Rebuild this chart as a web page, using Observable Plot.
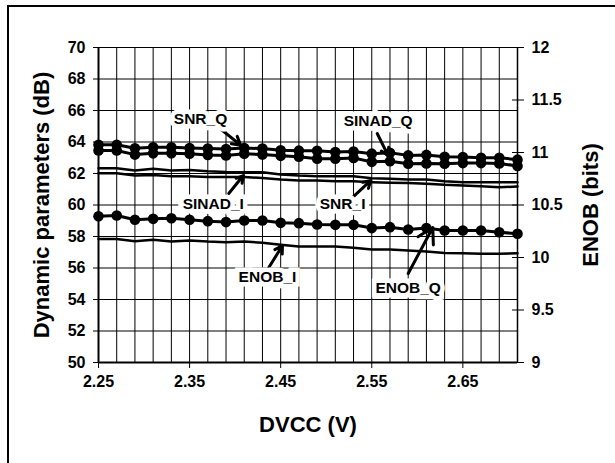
<!DOCTYPE html>
<html><head><meta charset="utf-8">
<script src="https://cdn.jsdelivr.net/npm/d3@7"></script>
<script src="https://cdn.jsdelivr.net/npm/@observablehq/plot@0.6"></script>
<style>
body{margin:0;background:#fff;}
#wrap{position:relative;width:615px;height:463px;overflow:hidden;}
#frame{position:absolute;left:7px;top:5px;width:700px;height:600px;border-left:2px solid #000;border-top:2px solid #000;pointer-events:none;z-index:2;}
</style></head><body><div id="wrap"><div id="chart"></div><div id="frame"></div></div>
<script>
// DVCC supply voltage (V)
const dvcc = [2.25,2.27,2.29,2.31,2.33,2.35,2.37,2.39,2.41,2.43,2.45,2.47,2.49,2.51,2.53,2.55,2.57,2.59,2.61,2.63,2.65,2.67,2.69,2.71];
// Dynamic parameters (dB)
const snrQ   = [63.82,63.82,63.60,63.66,63.66,63.62,63.58,63.56,63.62,63.58,63.48,63.45,63.44,63.36,63.40,63.26,63.32,63.15,63.18,63.06,63.05,63.00,63.00,62.88];
const sinadQ = [63.46,63.46,63.20,63.28,63.28,63.26,63.18,63.15,63.26,63.20,63.12,63.06,62.94,62.94,62.98,62.74,62.78,62.62,62.64,62.62,62.66,62.66,62.64,62.48];
const snrI   = [62.34,62.34,62.19,62.30,62.19,62.23,62.15,62.10,62.08,62.08,61.94,61.87,61.83,61.83,61.83,61.70,61.66,61.62,61.62,61.51,61.45,61.45,61.45,61.45];
const sinadI = [62.02,62.02,61.87,61.91,61.83,61.83,61.77,61.77,61.77,61.72,61.62,61.56,61.56,61.51,61.51,61.45,61.41,61.39,61.35,61.28,61.24,61.19,61.13,61.17];
// ENOB (bits) on secondary axis
const enobQ  = [10.393,10.400,10.359,10.368,10.374,10.360,10.346,10.337,10.353,10.353,10.330,10.327,10.314,10.311,10.311,10.280,10.289,10.266,10.280,10.257,10.257,10.257,10.241,10.226];
const enobI  = [10.177,10.177,10.155,10.168,10.152,10.162,10.152,10.146,10.152,10.140,10.121,10.105,10.105,10.105,10.092,10.076,10.076,10.066,10.057,10.044,10.041,10.035,10.035,10.041];

const xTicks = [2.25,2.35,2.45,2.55,2.65];
const dbTicks = [50,52,54,56,58,60,62,64,66,68,70];
const bitTicks = [9,9.5,10,10.5,11,11.5,12];
const bitTickLabels = ["9","9.5","10","10.5","11","11.5","12"];

const labels = [
  {name:"SNR_Q",   x:2.362, y:65.49},
  {name:"SINAD_Q", x:2.557, y:65.30},
  {name:"SINAD_I", x:2.376, y:60.03},
  {name:"SNR_I",   x:2.518, y:60.03},
  {name:"ENOB_I",  x:2.4355,y:55.40},
  {name:"ENOB_Q",  x:2.590, y:54.70}
];
const arrows = [
  {x1:2.382,y1:64.92,x2:2.406,y2:63.80},
  {x1:2.556,y1:64.54,x2:2.568,y2:63.14},
  {x1:2.393,y1:60.73,x2:2.409,y2:61.87},
  {x1:2.529,y1:60.48,x2:2.549,y2:61.56},
  {x1:2.437,y1:56.03,x2:2.452,y2:57.43},
  {x1:2.590,y1:55.65,x2:2.617,y2:58.57}
];

// map bits onto the dB scale (9..12 bits <-> 50..70 dB)
const toDb = b => 50 + (b - 9) * 20 / 3;

const mk = (name, arr, conv) => dvcc.map((x, i) => ({series: name, x, y: conv ? conv(arr[i]) : arr[i]}));
const qRows = [...mk("SNR_Q", snrQ), ...mk("SINAD_Q", sinadQ), ...mk("ENOB_Q", enobQ, toDb)];
const iRows = [...mk("SNR_I", snrI), ...mk("SINAD_I", sinadI), ...mk("ENOB_I", enobI, toDb)];

const plot = Plot.plot({
  width: 615, height: 463,
  marginLeft: 98, marginRight: 98, marginTop: 47, marginBottom: 101,
  style: {fontFamily: "'Liberation Sans', Arial, sans-serif", fontSize: "16px", fontWeight: "bold", background: "transparent", color: "#000"},
  x: {domain: [2.25, 2.71]},
  y: {domain: [50, 70]},
  marks: [
    Plot.ruleX(dvcc, {stroke: "#000", strokeWidth: 1}),
    Plot.ruleY(dbTicks, {stroke: "#000", strokeWidth: 1}),
    Plot.ruleX([2.25], {stroke: "#000", strokeWidth: 2}),
    Plot.ruleX([2.71], {stroke: "#000", strokeWidth: 1.5}),
    Plot.ruleY([50], {stroke: "#000", strokeWidth: 2}),
    Plot.axisX({ticks: xTicks, tickFormat: d => d.toFixed(2), tickSize: 6, tickPadding: 7, fontSize: 16, label: null}),
    Plot.axisY({ticks: dbTicks, tickSize: 5, tickPadding: 8, fontSize: 16, label: null}),
    Plot.axisY({anchor: "right", ticks: bitTicks.map(toDb), tickSize: 12, dx: -6, tickPadding: 8,
      tickFormat: d => bitTickLabels[bitTicks.findIndex(b => Math.abs(toDb(b) - d) < 1e-6)], fontSize: 16, label: null}),
    Plot.line(iRows, {x: "x", y: "y", z: "series", stroke: "#000", strokeWidth: 2.5}),
    Plot.line(qRows, {x: "x", y: "y", z: "series", stroke: "#000", strokeWidth: 3}),
    Plot.dot(qRows, {x: "x", y: "y", r: 5.3, fill: "#000"}),
    Plot.arrow(arrows, {x1: "x1", y1: "y1", x2: "x2", y2: "y2", stroke: "#000", strokeWidth: 3, headLength: 10}),
    Plot.text(labels, {x: "x", y: "y", text: "name", fill: "#000", stroke: "#fff", strokeWidth: 9, strokeLinejoin: "miter", paintOrder: "stroke", fontSize: 15.5, fontWeight: "bold"}),
    Plot.text(["Dynamic parameters (dB)"], {frameAnchor: "left", dx: -57, rotate: -90, textAnchor: "middle", fontSize: 22, fontWeight: "bold", fill: "#000"}),
    Plot.text(["ENOB (bits)"], {frameAnchor: "right", dx: 73, rotate: -90, textAnchor: "middle", fontSize: 22, fontWeight: "bold", fill: "#000"}),
    Plot.text(["DVCC (V)"], {frameAnchor: "bottom", dy: 69, fontSize: 22, fontWeight: "bold", fill: "#000"})
  ]
});
document.getElementById("chart").appendChild(plot);
</script>
</body></html>
